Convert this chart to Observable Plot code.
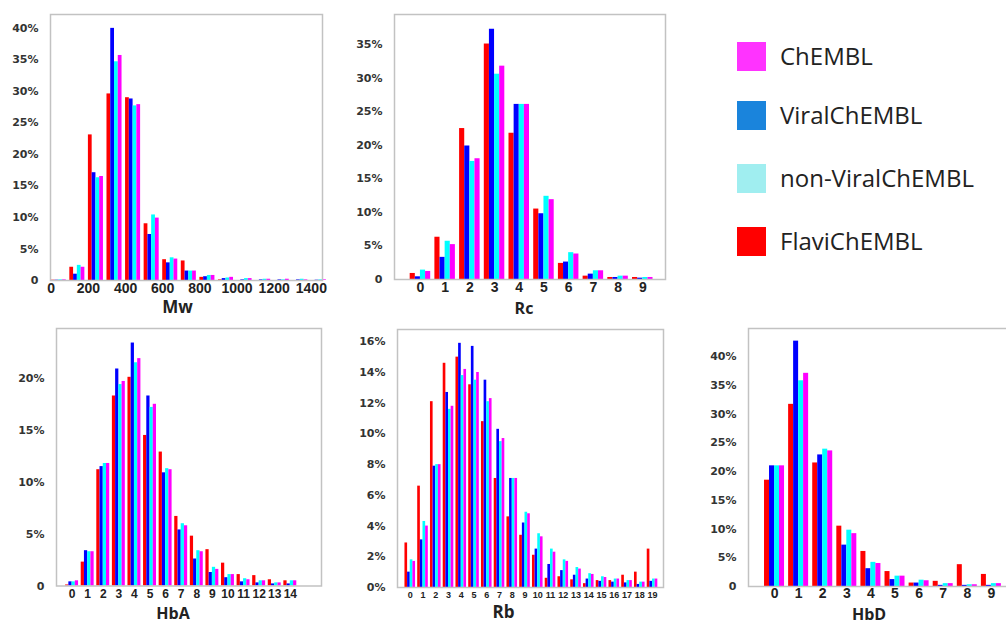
<!DOCTYPE html>
<html>
<head>
<meta charset="utf-8">
<script src="https://cdn.jsdelivr.net/npm/d3@7"></script>
<script src="https://cdn.jsdelivr.net/npm/@observablehq/plot@0.6"></script>
<style>
  html, body { margin: 0; padding: 0; background: #fff; }
  #wrap { position: relative; width: 1006px; height: 624px; overflow: hidden; background: #fff; }
  .panel { position: absolute; }
  .panel svg { overflow: visible; max-width: none !important; display: block; }
  .lg-sw { position: absolute; width: 29px; height: 29px; }
  .lg-tx { position: absolute; font-family: "Open Sans", sans-serif; font-size: 24px; color: #222; line-height: 29px; white-space: nowrap; }
</style>
</head>
<body>
<div id="wrap"></div>
<script>
// ---- series ----
const seriesNames = ["FlaviChEMBL", "ViralChEMBL", "non-ViralChEMBL", "ChEMBL"];
const barColors = ["#ff0000", "#0000ff", "#00ffff", "#ff00ff"];
const legendNames = ["ChEMBL", "ViralChEMBL", "non-ViralChEMBL", "FlaviChEMBL"];
const legendColors = ["#ff33ff", "#1a84dc", "#a0eef0", "#ff0000"];

// ---- Mw (bins of 100) ----
const mwBins = [0, 100, 200, 300, 400, 500, 600, 700, 800, 900, 1000, 1100, 1200, 1300, 1400];
const mwTicks = [0, 200, 400, 600, 800, 1000, 1200, 1400];
const mwFlavi    = [0.05, 2.1, 23.1, 29.6, 29.0, 9.0, 3.3, 3.1, 0.5, 0.1, 0, 0, 0, 0, 0];
const mwViral    = [0.05, 1.0, 17.1, 40.0, 28.8, 7.3, 2.8, 1.5, 0.6, 0.3, 0.1, 0.1, 0.1, 0.1, 0.05];
const mwNonViral = [0.1, 2.4, 16.3, 34.7, 27.7, 10.4, 3.6, 1.5, 0.8, 0.4, 0.3, 0.2, 0.1, 0.2, 0.1];
const mwChembl   = [0.1, 2.1, 16.5, 35.7, 27.9, 9.9, 3.4, 1.5, 0.8, 0.5, 0.3, 0.2, 0.2, 0.1, 0.1];
const mwYTicks = [0, 5, 10, 15, 20, 25, 30, 35, 40];

// ---- Rc ----
const rcCats = [0, 1, 2, 3, 4, 5, 6, 7, 8, 9];
const rcFlavi    = [0.9, 6.3, 22.5, 35.1, 21.8, 10.5, 2.4, 0.5, 0.3, 0.3];
const rcViral    = [0.4, 3.3, 19.9, 37.3, 26.1, 9.8, 2.6, 0.8, 0.3, 0.2];
const rcNonViral = [1.4, 5.7, 17.6, 30.6, 26.1, 12.4, 4.0, 1.3, 0.5, 0.3];
const rcChembl   = [1.2, 5.2, 18.0, 31.8, 26.1, 11.9, 3.8, 1.3, 0.5, 0.3];
const rcYTicks = [0, 5, 10, 15, 20, 25, 30, 35];

// ---- HbA ----
const hbaCats = [0, 1, 2, 3, 4, 5, 6, 7, 8, 9, 10, 11, 12, 13, 14];
const hbaFlavi    = [0.1, 2.3, 11.2, 18.3, 20.1, 14.5, 12.9, 6.7, 4.8, 3.5, 2.2, 1.1, 1.0, 0.6, 0.5];
const hbaViral    = [0.4, 3.4, 11.5, 20.9, 23.4, 18.3, 10.9, 5.4, 2.6, 1.3, 0.8, 0.4, 0.3, 0.2, 0.2];
const hbaNonViral = [0.4, 3.3, 11.8, 19.4, 21.5, 17.2, 11.3, 6.0, 3.4, 1.8, 1.1, 0.7, 0.5, 0.3, 0.5];
const hbaChembl   = [0.5, 3.3, 11.8, 19.7, 21.9, 17.5, 11.2, 5.8, 3.3, 1.6, 1.1, 0.6, 0.5, 0.3, 0.5];
const hbaYTicks = [0, 5, 10, 15, 20];

// ---- Rb ----
const rbCats = [0, 1, 2, 3, 4, 5, 6, 7, 8, 9, 10, 11, 12, 13, 14, 15, 16, 17, 18, 19];
const rbFlavi    = [2.9, 6.6, 12.1, 14.6, 15.0, 13.2, 10.8, 7.1, 4.6, 3.4, 2.1, 0.6, 0.7, 0.5, 0.25, 0.45, 0.45, 0.8, 1.0, 2.5];
const rbViral    = [1.0, 3.1, 7.9, 12.7, 15.9, 15.7, 13.5, 10.3, 7.1, 4.2, 2.5, 1.5, 1.1, 0.8, 0.55, 0.4, 0.35, 0.3, 0.2, 0.4];
const rbNonViral = [1.8, 4.3, 8.0, 11.6, 13.8, 13.5, 12.1, 9.5, 7.1, 4.9, 3.5, 2.5, 1.8, 1.3, 0.9, 0.7, 0.55, 0.45, 0.35, 0.55];
const rbChembl   = [1.7, 4.0, 8.0, 11.8, 14.2, 14.0, 12.3, 9.7, 7.1, 4.8, 3.3, 2.3, 1.7, 1.2, 0.85, 0.65, 0.55, 0.45, 0.35, 0.55];
const rbYTicks = [0, 2, 4, 6, 8, 10, 12, 14, 16];

// ---- HbD ----
const hbdCats = [0, 1, 2, 3, 4, 5, 6, 7, 8, 9];
const hbdFlavi    = [18.5, 31.7, 21.5, 10.5, 6.1, 2.6, 0.6, 0.9, 3.8, 2.1];
const hbdViral    = [21.0, 42.7, 22.9, 7.2, 3.1, 1.2, 0.6, 0.2, 0.2, 0.2];
const hbdNonViral = [21.0, 35.8, 23.9, 9.8, 4.2, 1.8, 1.1, 0.5, 0.3, 0.5];
const hbdChembl   = [21.0, 37.1, 23.6, 9.2, 4.0, 1.8, 1.0, 0.5, 0.3, 0.5];
const hbdYTicks = [0, 5, 10, 15, 20, 25, 30, 35, 40];

// build grouped-bar rows: each category gets 4 side-by-side bars
function groupRows(cats, arrays, groupWidth, startOffset) {
  const w = groupWidth / arrays.length;
  const out = [];
  cats.forEach((c, i) => {
    arrays.forEach((arr, j) => {
      const x1 = c + startOffset + j * w;
      out.push({cat: c, series: seriesNames[j], value: arr[i], x1, x2: x1 + w});
    });
  });
  return out;
}

const pctZero = d => d === 0 ? "0" : d + "%";
const pctAll = d => d + "%";
const plain = d => String(d);

const panels = [
  {title: "Mw", left: 0, top: 0, width: 330, height: 318, mL: 50, mR: 8, mT: 14, mB: 38,
   xDomain: [-4, 1460], yDomain: [0, 42.2], xTicks: mwTicks, yTicks: mwYTicks, yFmt: pctZero,
   rows: groupRows(mwBins, [mwFlavi, mwViral, mwNonViral, mwChembl], 81, 0),
   xFont: 14, xFamily: "Liberation Sans", xPad: 3, tdx: -9, tdy: 27, tSize: 17},
  {title: "Rc", left: 340, top: 0, width: 330, height: 318, mL: 54, mR: 5, mT: 14, mB: 39,
   xDomain: [-1.05, 9.92], yDomain: [0, 39.5], xTicks: rcCats, yTicks: rcYTicks, yFmt: pctZero,
   rows: groupRows(rcCats, [rcFlavi, rcViral, rcNonViral, rcChembl], 0.83, -0.415),
   xFont: 14, xFamily: "Liberation Sans", xPad: 3, tdx: -6, tdy: 29, tSize: 16},
  {title: "HbA", left: 0, top: 320, width: 330, height: 304, mL: 56, mR: 9, mT: 8, mB: 38.5,
   xDomain: [-1, 16], yDomain: [0, 24.8], xTicks: hbaCats, yTicks: hbaYTicks, yFmt: pctZero,
   rows: groupRows(hbaCats, [hbaFlavi, hbaViral, hbaNonViral, hbaChembl], 0.83, -0.415),
   xFont: 12, xFamily: "Liberation Sans", xPad: 3, tdx: -16, tdy: 28, tSize: 16},
  {title: "Rb", left: 340, top: 320, width: 330, height: 304, mL: 57, mR: 7, mT: 9, mB: 37,
   xDomain: [-1, 19.86], yDomain: [0, 16.8], xTicks: rbCats, yTicks: rbYTicks, yFmt: pctAll,
   rows: groupRows(rbCats, [rbFlavi, rbViral, rbNonViral, rbChembl], 0.83, -0.415),
   xFont: 9, xFamily: "Liberation Sans", xPad: 4, tdx: -27, tdy: 25, tSize: 17},
  {title: "HbD", left: 680, top: 320, width: 340, height: 304, mL: 68, mR: 5, mT: 8, mB: 38,
   xDomain: [-1.08, 10.0], yDomain: [0, 44.9], xTicks: hbdCats, yTicks: hbdYTicks, yFmt: pctZero,
   rows: groupRows(hbdCats, [hbdFlavi, hbdViral, hbdNonViral, hbdChembl], 0.83, -0.415),
   xFont: 14, xFamily: "Liberation Sans", xPad: 2, tdx: -13, tdy: 28.5, tSize: 16}
];

const wrap = document.getElementById("wrap");

for (const p of panels) {
  const chart = Plot.plot({
    width: p.width,
    height: p.height,
    marginLeft: p.mL, marginRight: p.mR, marginTop: p.mT, marginBottom: p.mB,
    x: {domain: p.xDomain},
    y: {domain: p.yDomain},
    color: {domain: seriesNames, range: barColors},
    style: {background: "transparent", overflow: "visible", fontFamily: "DejaVu Sans", maxWidth: "none"},
    marks: [
      Plot.rectY(p.rows, {x1: "x1", x2: "x2", y: "value", fill: "series"}),
      Plot.frame({stroke: "#c2c2c2", strokeWidth: 1.5}),
      Plot.axisX({ticks: p.xTicks, tickSize: 0, tickPadding: p.xPad, label: null, tickFormat: plain,
        fontSize: p.xFont, fontWeight: "bold", fontFamily: p.xFamily, color: "#222"}),
      Plot.axisY({ticks: p.yTicks, tickSize: 0, tickPadding: 12, label: null, tickFormat: p.yFmt,
        fontSize: 11, fontWeight: "bold", fontFamily: "DejaVu Sans", color: "#333"}),
      Plot.text([p.title], {text: d => d, frameAnchor: "bottom", lineAnchor: "middle", dx: p.tdx, dy: p.tdy,
        fontSize: p.tSize, fontWeight: "bold", fontFamily: "Open Sans", fill: "#222"})
    ]
  });
  const div = document.createElement("div");
  div.className = "panel";
  div.style.left = p.left + "px";
  div.style.top = p.top + "px";
  div.style.width = p.width + "px";
  div.style.height = p.height + "px";
  div.appendChild(chart);
  wrap.appendChild(div);
}

// legend
const legendTops = [42, 101, 164, 227];
legendNames.forEach((name, i) => {
  const sw = document.createElement("div");
  sw.className = "lg-sw";
  sw.style.left = "737px";
  sw.style.top = legendTops[i] + "px";
  sw.style.background = legendColors[i];
  wrap.appendChild(sw);
  const tx = document.createElement("div");
  tx.className = "lg-tx";
  tx.style.left = "780px";
  tx.style.top = (legendTops[i] - 1) + "px";
  tx.textContent = name;
  wrap.appendChild(tx);
});
</script>
</body>
</html>
